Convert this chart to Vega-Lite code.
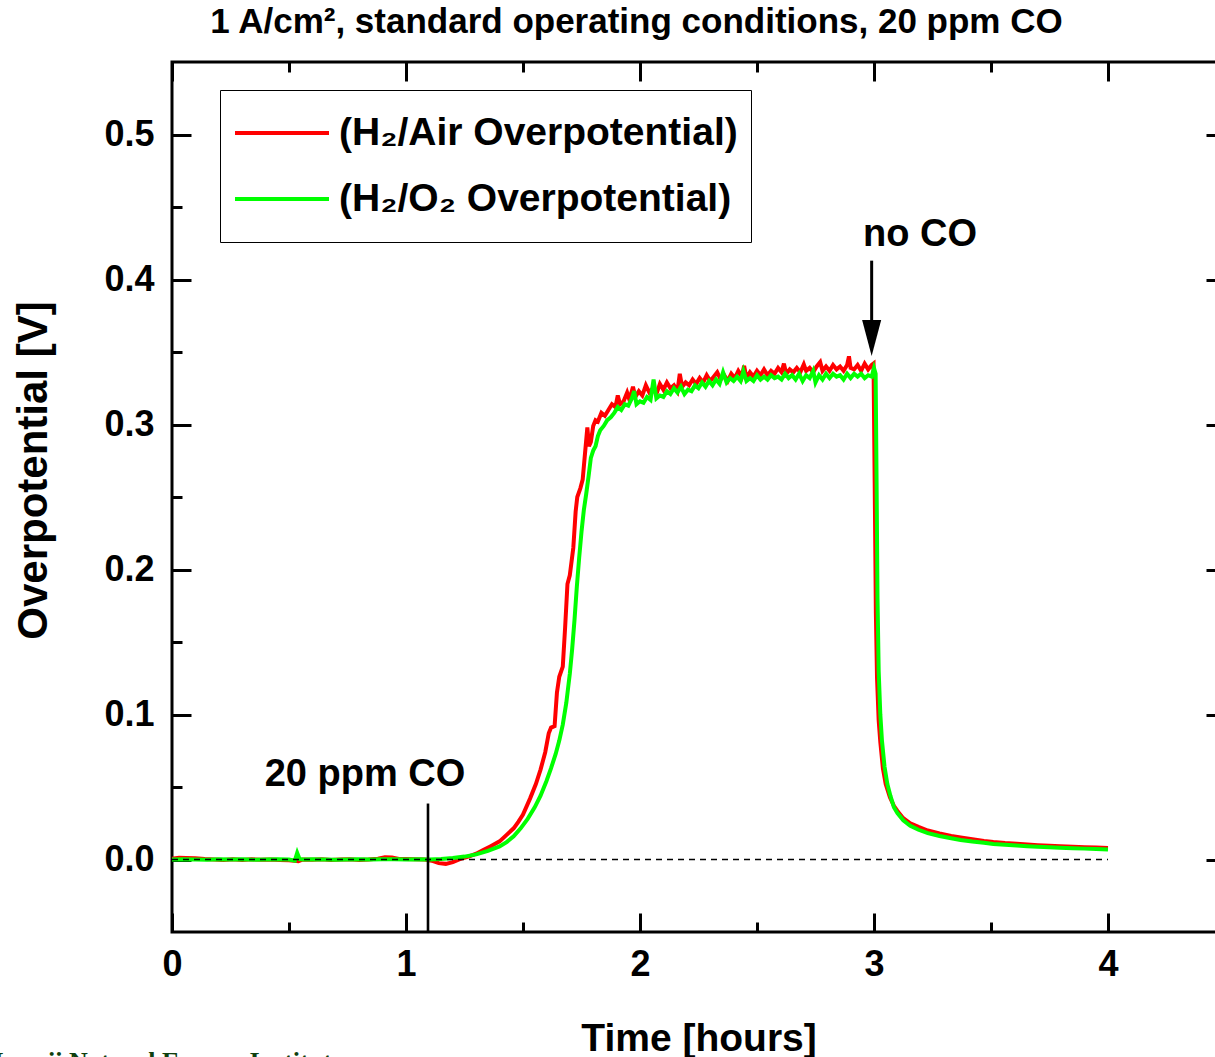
{
"$schema": "https://vega.github.io/schema/vega-lite/v6.json",
"autosize": "none",
"width": 1053,
"height": 870,
"padding": {"left": 172, "top": 62, "right": -10, "bottom": 125},
"background": "white",
"title": {"text": "1 A/cm², standard operating conditions, 20 ppm CO", "font": "Liberation Sans", "fontSize": 35, "fontWeight": "bold", "color": "black", "anchor": "middle", "frame": "group", "dx": -62, "baseline": "alphabetic", "offset": -7},
"config": {
  "view": {"stroke": "black", "strokeWidth": 3},
  "axis": {"domain": false, "grid": false, "tickColor": "black", "tickWidth": 3, "labelFont": "Liberation Sans", "labelFontSize": 36, "labelFontWeight": "bold", "labelColor": "black", "labelFlush": false, "titleFont": "Liberation Sans", "titleFontWeight": "bold", "titleColor": "black"}
},
"datasets": {
"curves": [
{"s":"a","t":0.00,"v":0.0005},{"s":"a","t":0.03,"v":0.0012},{"s":"a","t":0.06,"v":0.0010},{"s":"a","t":0.10,"v":0.0008},{"s":"a","t":0.14,"v":0.0003},{"s":"a","t":0.18,"v":0.0000},{"s":"a","t":0.22,"v":-0.0004},{"s":"a","t":0.26,"v":0.0002},{"s":"a","t":0.30,"v":-0.0003},{"s":"a","t":0.34,"v":0.0001},{"s":"a","t":0.38,"v":-0.0002},{"s":"a","t":0.42,"v":0.0000},{"s":"a","t":0.46,"v":-0.0003},{"s":"a","t":0.50,"v":-0.0005},{"s":"a","t":0.54,"v":-0.0012},{"s":"a","t":0.56,"v":0.0000},{"s":"a","t":0.60,"v":-0.0002},{"s":"a","t":0.64,"v":0.0001},{"s":"a","t":0.68,"v":-0.0004},{"s":"a","t":0.72,"v":0.0000},{"s":"a","t":0.76,"v":0.0002},{"s":"a","t":0.80,"v":-0.0003},{"s":"a","t":0.84,"v":0.0000},{"s":"a","t":0.88,"v":0.0006},{"s":"a","t":0.91,"v":0.0015},{"s":"a","t":0.94,"v":0.0013},{"s":"a","t":0.97,"v":0.0004},{"s":"a","t":1.00,"v":0.0003},{"s":"a","t":1.04,"v":0.0001},{"s":"a","t":1.08,"v":0.0000},{"s":"a","t":1.11,"v":-0.0008},{"s":"a","t":1.14,"v":-0.0025},{"s":"a","t":1.17,"v":-0.0030},{"s":"a","t":1.20,"v":-0.0018},{"s":"a","t":1.23,"v":0.0002},{"s":"a","t":1.27,"v":0.0022},{"s":"a","t":1.30,"v":0.0040},{"s":"a","t":1.33,"v":0.0065},{"s":"a","t":1.36,"v":0.0090},{"s":"a","t":1.40,"v":0.0125},{"s":"a","t":1.43,"v":0.0170},{"s":"a","t":1.46,"v":0.0215},{"s":"a","t":1.48,"v":0.0260},{"s":"a","t":1.50,"v":0.0310},{"s":"a","t":1.53,"v":0.0420},{"s":"a","t":1.555,"v":0.0520},{"s":"a","t":1.575,"v":0.0620},{"s":"a","t":1.595,"v":0.0740},{"s":"a","t":1.61,"v":0.0870},{"s":"a","t":1.62,"v":0.0910},{"s":"a","t":1.635,"v":0.0920},{"s":"a","t":1.645,"v":0.1150},{"s":"a","t":1.655,"v":0.1260},{"s":"a","t":1.67,"v":0.1330},{"s":"a","t":1.68,"v":0.1600},{"s":"a","t":1.69,"v":0.1900},{"s":"a","t":1.70,"v":0.1960},{"s":"a","t":1.715,"v":0.2150},{"s":"a","t":1.725,"v":0.2400},{"s":"a","t":1.732,"v":0.2500},{"s":"a","t":1.745,"v":0.2560},{"s":"a","t":1.755,"v":0.2620},{"s":"a","t":1.765,"v":0.2800},{"s":"a","t":1.775,"v":0.2980},{"s":"a","t":1.782,"v":0.2850},{"s":"a","t":1.79,"v":0.2880},{"s":"a","t":1.80,"v":0.2990},{"s":"a","t":1.81,"v":0.3030},{"s":"a","t":1.82,"v":0.3020},{"s":"a","t":1.835,"v":0.3080},{"s":"a","t":1.85,"v":0.3060},{"s":"a","t":1.865,"v":0.3100},{"s":"a","t":1.88,"v":0.3140},{"s":"a","t":1.895,"v":0.3120},{"s":"a","t":1.905,"v":0.3200},{"s":"a","t":1.915,"v":0.3140},{"s":"a","t":1.93,"v":0.3160},{"s":"a","t":1.945,"v":0.3220},{"s":"a","t":1.955,"v":0.3170},{"s":"a","t":1.97,"v":0.3260},{"s":"a","t":1.98,"v":0.3190},{"s":"a","t":1.995,"v":0.3230},{"s":"a","t":2.01,"v":0.3200},{"s":"a","t":2.025,"v":0.3270},{"s":"a","t":2.04,"v":0.3220},{"s":"a","t":2.055,"v":0.3250},{"s":"a","t":2.07,"v":0.3210},{"s":"a","t":2.085,"v":0.3280},{"s":"a","t":2.10,"v":0.3240},{"s":"a","t":2.115,"v":0.3290},{"s":"a","t":2.13,"v":0.3250},{"s":"a","t":2.145,"v":0.3270},{"s":"a","t":2.16,"v":0.3230},{"s":"a","t":2.17,"v":0.3350},{"s":"a","t":2.18,"v":0.3260},{"s":"a","t":2.195,"v":0.3290},{"s":"a","t":2.21,"v":0.3270},{"s":"a","t":2.225,"v":0.3310},{"s":"a","t":2.24,"v":0.3280},{"s":"a","t":2.255,"v":0.3320},{"s":"a","t":2.27,"v":0.3290},{"s":"a","t":2.285,"v":0.3340},{"s":"a","t":2.30,"v":0.3300},{"s":"a","t":2.315,"v":0.3330},{"s":"a","t":2.33,"v":0.3360},{"s":"a","t":2.345,"v":0.3310},{"s":"a","t":2.36,"v":0.3340},{"s":"a","t":2.375,"v":0.3300},{"s":"a","t":2.39,"v":0.3350},{"s":"a","t":2.405,"v":0.3320},{"s":"a","t":2.42,"v":0.3370},{"s":"a","t":2.435,"v":0.3330},{"s":"a","t":2.445,"v":0.3405},{"s":"a","t":2.455,"v":0.3320},{"s":"a","t":2.47,"v":0.3360},{"s":"a","t":2.485,"v":0.3330},{"s":"a","t":2.50,"v":0.3370},{"s":"a","t":2.515,"v":0.3340},{"s":"a","t":2.53,"v":0.3380},{"s":"a","t":2.545,"v":0.3340},{"s":"a","t":2.56,"v":0.3370},{"s":"a","t":2.575,"v":0.3350},{"s":"a","t":2.59,"v":0.3390},{"s":"a","t":2.605,"v":0.3360},{"s":"a","t":2.615,"v":0.3420},{"s":"a","t":2.625,"v":0.3350},{"s":"a","t":2.64,"v":0.3380},{"s":"a","t":2.655,"v":0.3360},{"s":"a","t":2.67,"v":0.3390},{"s":"a","t":2.685,"v":0.3360},{"s":"a","t":2.70,"v":0.3415},{"s":"a","t":2.71,"v":0.3370},{"s":"a","t":2.725,"v":0.3390},{"s":"a","t":2.74,"v":0.3360},{"s":"a","t":2.755,"v":0.3400},{"s":"a","t":2.77,"v":0.3430},{"s":"a","t":2.78,"v":0.3370},{"s":"a","t":2.795,"v":0.3400},{"s":"a","t":2.81,"v":0.3370},{"s":"a","t":2.825,"v":0.3410},{"s":"a","t":2.84,"v":0.3380},{"s":"a","t":2.855,"v":0.3400},{"s":"a","t":2.87,"v":0.3370},{"s":"a","t":2.885,"v":0.3410},{"s":"a","t":2.893,"v":0.3470},{"s":"a","t":2.90,"v":0.3390},{"s":"a","t":2.915,"v":0.3380},{"s":"a","t":2.93,"v":0.3410},{"s":"a","t":2.945,"v":0.3370},{"s":"a","t":2.96,"v":0.3420},{"s":"a","t":2.975,"v":0.3380},{"s":"a","t":2.99,"v":0.3410},{"s":"a","t":2.998,"v":0.3420},{"s":"a","t":3.003,"v":0.2600},{"s":"a","t":3.008,"v":0.1700},{"s":"a","t":3.013,"v":0.1250},{"s":"a","t":3.02,"v":0.0960},{"s":"a","t":3.027,"v":0.0810},{"s":"a","t":3.038,"v":0.0630},{"s":"a","t":3.05,"v":0.0520},{"s":"a","t":3.068,"v":0.0430},{"s":"a","t":3.085,"v":0.0370},{"s":"a","t":3.10,"v":0.0335},{"s":"a","t":3.125,"v":0.0285},{"s":"a","t":3.155,"v":0.0250},{"s":"a","t":3.19,"v":0.0225},{"s":"a","t":3.23,"v":0.0200},{"s":"a","t":3.28,"v":0.0180},{"s":"a","t":3.33,"v":0.0163},{"s":"a","t":3.37,"v":0.0152},{"s":"a","t":3.42,"v":0.0140},{"s":"a","t":3.47,"v":0.0128},{"s":"a","t":3.51,"v":0.0120},{"s":"a","t":3.56,"v":0.0113},{"s":"a","t":3.61,"v":0.0108},{"s":"a","t":3.655,"v":0.0103},{"s":"a","t":3.70,"v":0.0098},{"s":"a","t":3.75,"v":0.0094},{"s":"a","t":3.795,"v":0.0091},{"s":"a","t":3.85,"v":0.0088},{"s":"a","t":3.90,"v":0.0085},{"s":"a","t":3.95,"v":0.0082},{"s":"a","t":4.00,"v":0.0080},
{"s":"b","t":0.00,"v":0.0000},{"s":"b","t":0.05,"v":0.0002},{"s":"b","t":0.10,"v":0.0000},{"s":"b","t":0.15,"v":-0.0001},{"s":"b","t":0.20,"v":0.0001},{"s":"b","t":0.25,"v":0.0000},{"s":"b","t":0.30,"v":0.0001},{"s":"b","t":0.35,"v":-0.0001},{"s":"b","t":0.40,"v":0.0000},{"s":"b","t":0.45,"v":0.0001},{"s":"b","t":0.50,"v":0.0000},{"s":"b","t":0.525,"v":-0.0008},{"s":"b","t":0.535,"v":0.0045},{"s":"b","t":0.545,"v":0.0003},{"s":"b","t":0.56,"v":0.0000},{"s":"b","t":0.60,"v":0.0001},{"s":"b","t":0.65,"v":0.0000},{"s":"b","t":0.70,"v":-0.0001},{"s":"b","t":0.75,"v":0.0000},{"s":"b","t":0.80,"v":0.0001},{"s":"b","t":0.85,"v":0.0000},{"s":"b","t":0.90,"v":0.0002},{"s":"b","t":0.95,"v":0.0001},{"s":"b","t":1.00,"v":0.0000},{"s":"b","t":1.05,"v":0.0001},{"s":"b","t":1.10,"v":0.0000},{"s":"b","t":1.15,"v":0.0004},{"s":"b","t":1.20,"v":0.0010},{"s":"b","t":1.25,"v":0.0020},{"s":"b","t":1.30,"v":0.0035},{"s":"b","t":1.35,"v":0.0060},{"s":"b","t":1.40,"v":0.0090},{"s":"b","t":1.43,"v":0.0120},{"s":"b","t":1.46,"v":0.0160},{"s":"b","t":1.49,"v":0.0215},{"s":"b","t":1.52,"v":0.0280},{"s":"b","t":1.55,"v":0.0360},{"s":"b","t":1.575,"v":0.0440},{"s":"b","t":1.60,"v":0.0540},{"s":"b","t":1.62,"v":0.0630},{"s":"b","t":1.64,"v":0.0730},{"s":"b","t":1.655,"v":0.0820},{"s":"b","t":1.67,"v":0.0930},{"s":"b","t":1.685,"v":0.1080},{"s":"b","t":1.70,"v":0.1280},{"s":"b","t":1.71,"v":0.1450},{"s":"b","t":1.72,"v":0.1650},{"s":"b","t":1.73,"v":0.1880},{"s":"b","t":1.74,"v":0.2080},{"s":"b","t":1.75,"v":0.2260},{"s":"b","t":1.76,"v":0.2410},{"s":"b","t":1.77,"v":0.2520},{"s":"b","t":1.78,"v":0.2640},{"s":"b","t":1.79,"v":0.2770},{"s":"b","t":1.80,"v":0.2820},{"s":"b","t":1.81,"v":0.2850},{"s":"b","t":1.82,"v":0.2920},{"s":"b","t":1.83,"v":0.2960},{"s":"b","t":1.845,"v":0.2990},{"s":"b","t":1.86,"v":0.3030},{"s":"b","t":1.875,"v":0.3050},{"s":"b","t":1.89,"v":0.3080},{"s":"b","t":1.905,"v":0.3120},{"s":"b","t":1.92,"v":0.3100},{"s":"b","t":1.935,"v":0.3140},{"s":"b","t":1.95,"v":0.3130},{"s":"b","t":1.965,"v":0.3180},{"s":"b","t":1.975,"v":0.3230},{"s":"b","t":1.985,"v":0.3140},{"s":"b","t":2.00,"v":0.3160},{"s":"b","t":2.015,"v":0.3150},{"s":"b","t":2.03,"v":0.3190},{"s":"b","t":2.045,"v":0.3170},{"s":"b","t":2.058,"v":0.3310},{"s":"b","t":2.07,"v":0.3180},{"s":"b","t":2.085,"v":0.3200},{"s":"b","t":2.10,"v":0.3190},{"s":"b","t":2.115,"v":0.3230},{"s":"b","t":2.13,"v":0.3210},{"s":"b","t":2.145,"v":0.3250},{"s":"b","t":2.16,"v":0.3220},{"s":"b","t":2.175,"v":0.3260},{"s":"b","t":2.19,"v":0.3210},{"s":"b","t":2.205,"v":0.3240},{"s":"b","t":2.22,"v":0.3230},{"s":"b","t":2.235,"v":0.3270},{"s":"b","t":2.25,"v":0.3250},{"s":"b","t":2.265,"v":0.3290},{"s":"b","t":2.28,"v":0.3260},{"s":"b","t":2.295,"v":0.3300},{"s":"b","t":2.31,"v":0.3270},{"s":"b","t":2.325,"v":0.3310},{"s":"b","t":2.34,"v":0.3280},{"s":"b","t":2.355,"v":0.3360},{"s":"b","t":2.37,"v":0.3290},{"s":"b","t":2.385,"v":0.3320},{"s":"b","t":2.40,"v":0.3300},{"s":"b","t":2.415,"v":0.3330},{"s":"b","t":2.43,"v":0.3300},{"s":"b","t":2.442,"v":0.3370},{"s":"b","t":2.455,"v":0.3300},{"s":"b","t":2.47,"v":0.3320},{"s":"b","t":2.485,"v":0.3300},{"s":"b","t":2.50,"v":0.3340},{"s":"b","t":2.515,"v":0.3310},{"s":"b","t":2.53,"v":0.3330},{"s":"b","t":2.545,"v":0.3310},{"s":"b","t":2.56,"v":0.3340},{"s":"b","t":2.575,"v":0.3320},{"s":"b","t":2.59,"v":0.3330},{"s":"b","t":2.605,"v":0.3310},{"s":"b","t":2.62,"v":0.3350},{"s":"b","t":2.635,"v":0.3320},{"s":"b","t":2.65,"v":0.3340},{"s":"b","t":2.665,"v":0.3310},{"s":"b","t":2.68,"v":0.3350},{"s":"b","t":2.695,"v":0.3300},{"s":"b","t":2.71,"v":0.3340},{"s":"b","t":2.725,"v":0.3320},{"s":"b","t":2.74,"v":0.3370},{"s":"b","t":2.75,"v":0.3290},{"s":"b","t":2.765,"v":0.3340},{"s":"b","t":2.78,"v":0.3310},{"s":"b","t":2.795,"v":0.3350},{"s":"b","t":2.81,"v":0.3320},{"s":"b","t":2.825,"v":0.3350},{"s":"b","t":2.84,"v":0.3330},{"s":"b","t":2.855,"v":0.3340},{"s":"b","t":2.87,"v":0.3310},{"s":"b","t":2.885,"v":0.3350},{"s":"b","t":2.90,"v":0.3320},{"s":"b","t":2.915,"v":0.3350},{"s":"b","t":2.93,"v":0.3330},{"s":"b","t":2.945,"v":0.3350},{"s":"b","t":2.96,"v":0.3320},{"s":"b","t":2.975,"v":0.3340},{"s":"b","t":2.99,"v":0.3330},{"s":"b","t":3.00,"v":0.3390},{"s":"b","t":3.007,"v":0.3350},{"s":"b","t":3.011,"v":0.2600},{"s":"b","t":3.015,"v":0.1800},{"s":"b","t":3.02,"v":0.1300},{"s":"b","t":3.027,"v":0.1000},{"s":"b","t":3.034,"v":0.0820},{"s":"b","t":3.045,"v":0.0640},{"s":"b","t":3.057,"v":0.0520},{"s":"b","t":3.07,"v":0.0440},{"s":"b","t":3.085,"v":0.0360},{"s":"b","t":3.10,"v":0.0320},{"s":"b","t":3.125,"v":0.0270},{"s":"b","t":3.155,"v":0.0232},{"s":"b","t":3.19,"v":0.0205},{"s":"b","t":3.23,"v":0.0182},{"s":"b","t":3.28,"v":0.0162},{"s":"b","t":3.33,"v":0.0146},{"s":"b","t":3.37,"v":0.0135},{"s":"b","t":3.42,"v":0.0124},{"s":"b","t":3.47,"v":0.0115},{"s":"b","t":3.51,"v":0.0107},{"s":"b","t":3.56,"v":0.0101},{"s":"b","t":3.61,"v":0.0096},{"s":"b","t":3.655,"v":0.0092},{"s":"b","t":3.70,"v":0.0088},{"s":"b","t":3.75,"v":0.0084},{"s":"b","t":3.795,"v":0.0081},{"s":"b","t":3.85,"v":0.0078},{"s":"b","t":3.90,"v":0.0075},{"s":"b","t":3.95,"v":0.0072},{"s":"b","t":4.00,"v":0.0069}
]
},
"layer": [
{
  "data": {"name": "curves"},
  "transform": [{"filter": "datum.s == 'a'"}],
  "mark": {"type": "line", "strokeWidth": 4},
  "encoding": {
    "x": {"field": "t", "type": "quantitative", "scale": {"domain": [0, 4.5], "nice": false, "zero": false},
      "axis": {"orient": "bottom", "values": [0, 1, 2, 3, 4], "format": "d", "tickSize": -19, "labelPadding": 34, "title": "Time [hours]", "titleFontSize": 39, "titleBaseline": "alphabetic", "titleY": 118}},
    "y": {"field": "v", "type": "quantitative", "scale": {"domain": [-0.05, 0.55], "nice": false, "zero": false},
      "axis": {"orient": "left", "values": [0, 0.1, 0.2, 0.3, 0.4, 0.5], "format": ".1f", "tickSize": -19, "labelPadding": 37, "title": "Overpotential [V]", "titleFontSize": 42, "titleBaseline": "alphabetic", "titleX": -126, "titleY": 408}},
    "color": {"field": "s", "type": "nominal", "scale": {"domain": ["a", "b"], "range": ["#ff0000", "#00ff00"]},
      "legend": {"orient": "none", "legendX": 48, "legendY": 28, "title": null, "symbolType": "stroke", "symbolSize": 8836, "symbolStrokeWidth": 4, "labelFont": "Liberation Sans", "labelFontSize": 39, "labelFontWeight": "bold", "labelColor": "black", "labelLimit": 700, "labelOffset": 8, "labelExpr": "datum.label == 'a' ? '(H₂/Air Overpotential)' : '(H₂/O₂ Overpotential)'", "strokeColor": "black", "fillColor": "white", "padding": 13, "clipHeight": 60, "rowPadding": 6}}
  }
},
{
  "data": {"name": "curves"},
  "transform": [{"filter": "datum.s == 'b'"}],
  "mark": {"type": "line", "strokeWidth": 4},
  "encoding": {
    "x": {"field": "t", "type": "quantitative", "scale": {"domain": [0, 4.5], "nice": false, "zero": false},
      "axis": {"orient": "bottom", "values": [0.5, 1.5, 2.5, 3.5], "tickSize": -10, "labels": false, "title": null}},
    "y": {"field": "v", "type": "quantitative", "scale": {"domain": [-0.05, 0.55], "nice": false, "zero": false},
      "axis": {"orient": "left", "values": [0.05, 0.15, 0.25, 0.35, 0.45], "tickSize": -10, "labels": false, "title": null}},
    "color": {"field": "s", "type": "nominal", "scale": {"domain": ["a", "b"], "range": ["#ff0000", "#00ff00"]},
      "legend": {"orient": "none", "legendX": 48, "legendY": 28, "title": null, "symbolType": "stroke", "symbolSize": 8836, "symbolStrokeWidth": 4, "labelFont": "Liberation Sans", "labelFontSize": 39, "labelFontWeight": "bold", "labelColor": "black", "labelLimit": 700, "labelOffset": 8, "labelExpr": "datum.label == 'a' ? '(H₂/Air Overpotential)' : '(H₂/O₂ Overpotential)'", "strokeColor": "black", "fillColor": "white", "padding": 13, "clipHeight": 60, "rowPadding": 6}}
  }
},
{
  "data": {"values": [{"t0": 0, "t1": 4, "v": 0}]},
  "mark": {"type": "rule", "color": "black", "strokeWidth": 1.3, "strokeDash": [6, 5]},
  "encoding": {
    "x": {"field": "t0", "type": "quantitative", "scale": {"domain": [0, 4.5], "nice": false, "zero": false},
      "axis": {"orient": "top", "values": [0, 1, 2, 3, 4], "tickSize": -19, "labels": false, "title": null}},
    "x2": {"field": "t1"},
    "y": {"field": "v", "type": "quantitative", "scale": {"domain": [-0.05, 0.55], "nice": false, "zero": false},
      "axis": {"orient": "right", "values": [0, 0.1, 0.2, 0.3, 0.4, 0.5], "tickSize": -19, "labels": false, "title": null}}
  }
},
{
  "data": {"values": [{"t": 1.094, "v0": -0.05, "v1": 0.0386}]},
  "mark": {"type": "rule", "color": "black", "strokeWidth": 2.6},
  "encoding": {
    "x": {"field": "t", "type": "quantitative", "scale": {"domain": [0, 4.5], "nice": false, "zero": false},
      "axis": {"orient": "top", "values": [0.5, 1.5, 2.5, 3.5], "tickSize": -10, "labels": false, "title": null}},
    "y": {"field": "v0", "type": "quantitative", "scale": {"domain": [-0.05, 0.55], "nice": false, "zero": false},
      "axis": {"orient": "right", "values": [0.05, 0.15, 0.25, 0.35, 0.45], "tickSize": -10, "labels": false, "title": null}},
    "y2": {"field": "v1"}
  }
},
{
  "data": {"values": [{"t": 2.99, "v0": 0.413, "v1": 0.368}]},
  "mark": {"type": "rule", "color": "black", "strokeWidth": 3},
  "encoding": {
    "x": {"field": "t", "type": "quantitative", "scale": {"domain": [0, 4.5], "nice": false, "zero": false}, "axis": null},
    "y": {"field": "v0", "type": "quantitative", "scale": {"domain": [-0.05, 0.55], "nice": false, "zero": false}, "axis": null},
    "y2": {"field": "v1"}
  }
},
{
  "data": {"values": [{"t": 2.99, "v": 0.3597}]},
  "mark": {"type": "point", "shape": "M-0.53,-1L0.53,-1L0,1Z", "size": 1296, "filled": true, "color": "black", "opacity": 1, "strokeWidth": 0},
  "encoding": {
    "x": {"field": "t", "type": "quantitative", "scale": {"domain": [0, 4.5], "nice": false, "zero": false}, "axis": null},
    "y": {"field": "v", "type": "quantitative", "scale": {"domain": [-0.05, 0.55], "nice": false, "zero": false}, "axis": null}
  }
},
{
  "data": {"values": [{"t": 3.197, "v": 0.4228, "label": "no CO"}, {"t": 0.8248, "v": 0.051, "label": "20 ppm CO"}]},
  "mark": {"type": "text", "font": "Liberation Sans", "fontSize": 38, "fontWeight": "bold", "color": "black", "align": "center", "baseline": "alphabetic"},
  "encoding": {
    "x": {"field": "t", "type": "quantitative", "scale": {"domain": [0, 4.5], "nice": false, "zero": false}, "axis": null},
    "y": {"field": "v", "type": "quantitative", "scale": {"domain": [-0.05, 0.55], "nice": false, "zero": false}, "axis": null},
    "text": {"field": "label"}
  }
},
{
  "data": {"values": [{"t": -0.808, "v": -0.1455, "label": "Hawaii Natural Energy Institute"}]},
  "mark": {"type": "text", "font": "Liberation Serif", "fontSize": 26, "fontWeight": "bold", "color": "#0f3f0f", "align": "left", "baseline": "alphabetic"},
  "encoding": {
    "x": {"field": "t", "type": "quantitative", "scale": {"domain": [0, 4.5], "nice": false, "zero": false}, "axis": null},
    "y": {"field": "v", "type": "quantitative", "scale": {"domain": [-0.05, 0.55], "nice": false, "zero": false}, "axis": null},
    "text": {"field": "label"}
  }
}
],
"resolve": {"axis": {"x": "independent", "y": "independent"}}
}
